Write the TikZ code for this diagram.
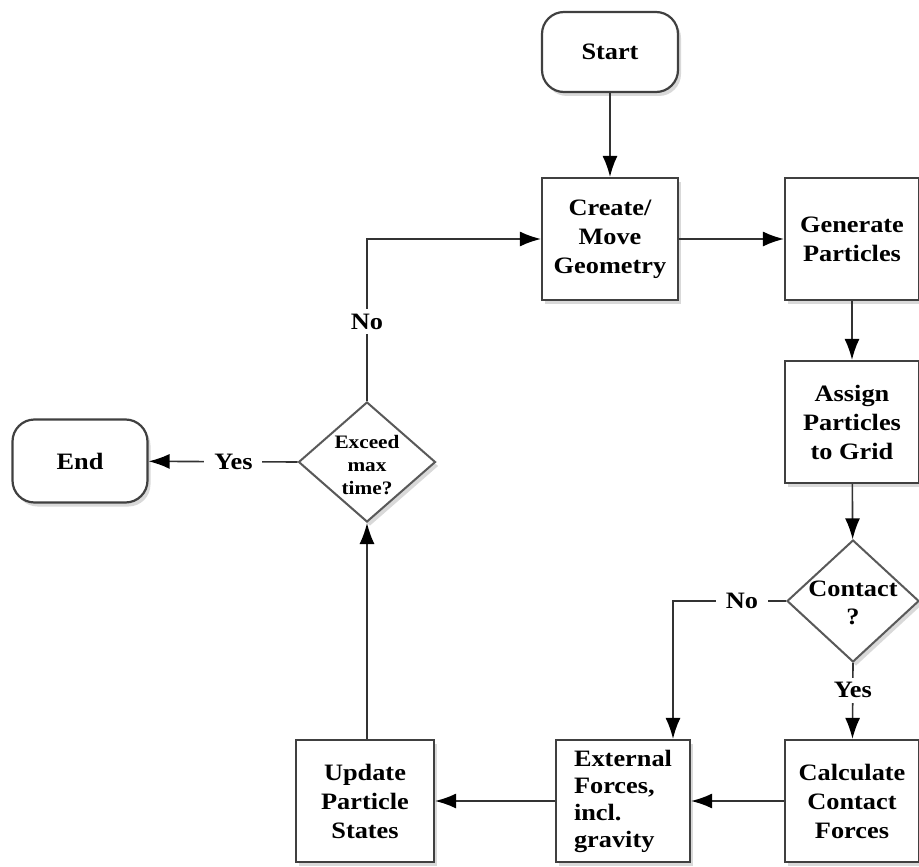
\documentclass[tikz,border=0pt]{standalone}
\usepackage{fontspec}
\setmainfont{Liberation Serif}[FakeStretch=1.12]
\usetikzlibrary{shapes.geometric,arrows.meta,shadows}
\begin{document}
\begin{tikzpicture}[x=1pt,y=-1pt,
  shad/.style={drop shadow={shadow xshift=3pt,shadow yshift=-4pt,opacity=0.3}},
  box/.style={draw=black!75,line width=2.2pt,fill=white,rectangle,minimum width=136pt,minimum height=122pt,inner sep=0pt,align=center,font=\fontsize{23.5}{29}\selectfont\bfseries,shad},
  term/.style={box,rounded corners=22pt,minimum height=80pt},
  dia/.style={draw=black!65,line width=2pt,fill=white,diamond,inner sep=0pt,shad},
  dtext/.style={align=center,inner sep=0pt,font=\fontsize{23.5}{28}\selectfont\bfseries},
  conn/.style={draw=black!80,line width=1.6pt,-{Latex[length=21pt,width=15pt,fill=black,color=black]}},
  lbl/.style={fill=white,inner xsep=10pt,inner ysep=5pt,font=\fontsize{23.5}{28}\selectfont\bfseries},
]
\useasboundingbox (0,0) rectangle (919,867);

\node[term] (start) at (610,52) {Start};
\node[box] (create) at (610,239) {Create/\\Move\\Geometry};
\node[box,minimum width=134pt] (gen) at (852,239) {Generate\\Particles};
\node[box,minimum width=134pt] (assign) at (852,422) {Assign\\Particles\\to Grid};
\node[dia,minimum width=132pt,minimum height=122pt] (contact) at (853,601) {};
\node[dtext] (contactt) at (853,603) {Contact\\?};
\node[box,minimum width=134pt] (calc) at (852,801) {Calculate\\Contact\\Forces};
\node[box,minimum width=134pt,align=left,font=\fontsize{23.5}{27}\selectfont\bfseries] (ext) at (623,801) {External\\Forces,\\incl.\\gravity};
\node[box,minimum width=138pt] (upd) at (365,801) {Update\\Particle\\States};
\node[dia,minimum width=137pt,minimum height=120pt] (exceed) at (367,462) {};
\node[dtext,font=\fontsize{19}{23}\selectfont\bfseries] (exceedt) at (367,465) {Exceed\\max\\time?};
\node[term,minimum width=135pt,minimum height=83pt] (end) at (80,461) {End};

\coordinate (nc) at (673,601);

\draw[conn] (start) -- (create);
\draw[conn] (create) -- (gen);
\draw[conn] (gen) -- (assign);
\draw[conn] (assign) -- (contact);
\draw[conn] (contact.south) -- node[lbl,pos=0.36] (yes1) {Yes} (calc);
\draw[conn] (contact.west) -- node[lbl,pos=0.39] (no1) {No} (nc) -- (nc |- ext.north);
\draw[conn] (calc) -- (ext);
\draw[conn] (ext) -- (upd);
\draw[conn] (upd.north -| exceed.south) -- (exceed.south);
\draw[conn] (exceed.west) -- node[lbl,pos=0.43] (yes2) {Yes} (end);
\draw[conn] (exceed.north) |- node[lbl,pos=0.245] (no2) {No} (create.west);
\end{tikzpicture}
\end{document}
